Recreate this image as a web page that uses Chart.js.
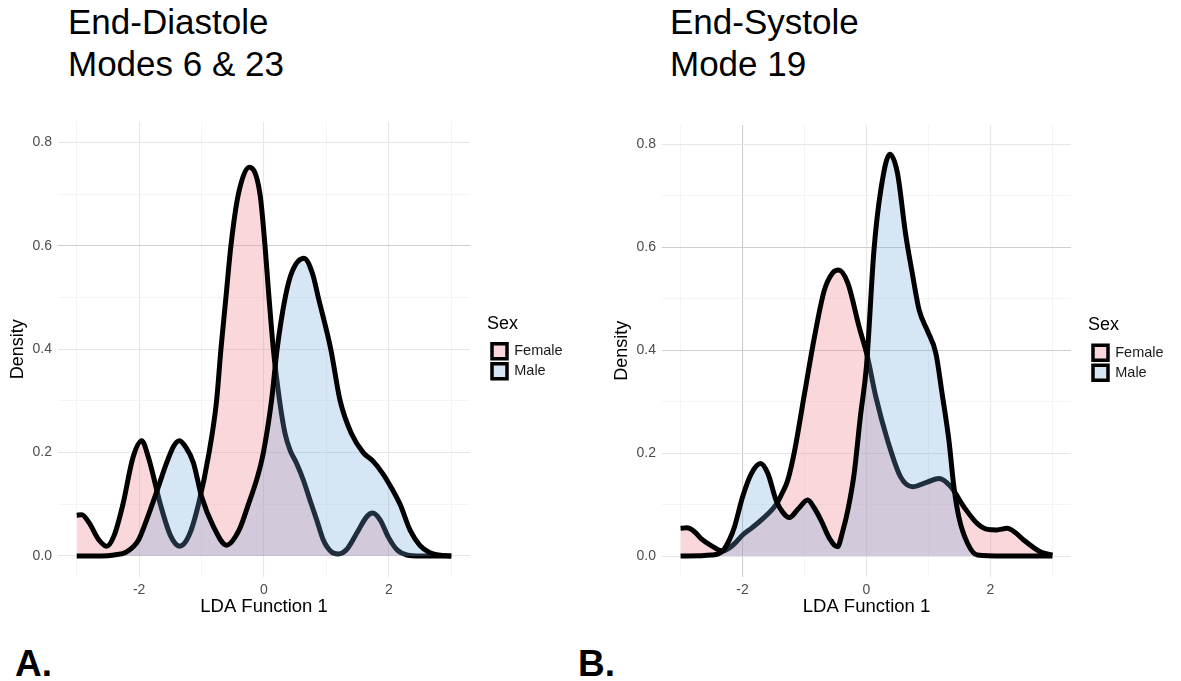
<!DOCTYPE html>
<html>
<head>
<meta charset="utf-8">
<script src="https://cdn.jsdelivr.net/npm/chart.js@4.4.1/dist/chart.umd.min.js"></script>
<style>
  body { margin: 0; background: #fff; font-family: "Liberation Sans", Arial, sans-serif; }
  #pagina { position: relative; width: 1181px; height: 681px; overflow: hidden; }
  .titolo { position: absolute; font-size: 35px; line-height: 42px; color: #000; white-space: nowrap; }
  .lettera { position: absolute; font-size: 37px; font-weight: bold; line-height: 37px; color: #000; }
  .riquadro { position: absolute; top: 100px; height: 530px; }
</style>
</head>
<body>
<div id="pagina">
  <div class="titolo" style="left:68px; top:1px">End-Diastole<br>Modes 6 &amp; 23</div>
  <div class="titolo" style="left:670px; top:1px">End-Systole<br>Mode 19</div>
  <div class="riquadro" style="left:0; width:580px"><canvas id="grafico-a"></canvas></div>
  <div class="riquadro" style="left:604px; width:577px"><canvas id="grafico-b"></canvas></div>
  <div class="lettera" style="left:15px; top:645px">A.</div>
  <div class="lettera" style="left:578px; top:645px">B.</div>
</div>
<script>
const sessi = ["Female", "Male"];
const xTicks = [-3, -2, -1, 0, 1, 2, 3];
const xLabels = [-2, 0, 2];
const yTicks = [0, 0.1, 0.2, 0.3, 0.4, 0.5, 0.6, 0.7, 0.8];
const yLabels = [0, 0.2, 0.4, 0.6, 0.8];

// A. End-Diastole, Female
const diaFemX = [-3.0, -2.92, -2.8, -2.65, -2.52, -2.4, -2.26, -2.1, -1.96, -1.85, -1.66, -1.5, -1.35, -1.2, -1.05, -0.88, -0.76, -0.69, -0.61, -0.53, -0.41, -0.235, -0.064, 0.016, 0.08, 0.15, 0.256, 0.337, 0.417, 0.523, 0.63, 0.737, 0.844, 0.95, 1.08, 1.19, 1.32, 1.485, 1.645, 1.74, 1.86, 1.99, 2.13, 2.29, 2.5, 3.0];
const diaFemY = [0.079, 0.080, 0.064, 0.032, 0.019, 0.04, 0.10, 0.19, 0.223, 0.19, 0.10, 0.04, 0.019, 0.04, 0.10, 0.20, 0.30, 0.40, 0.50, 0.60, 0.70, 0.752, 0.70, 0.60, 0.50, 0.40, 0.295, 0.237, 0.205, 0.179, 0.147, 0.108, 0.070, 0.031, 0.008, 0.004, 0.012, 0.044, 0.076, 0.083, 0.07, 0.037, 0.012, 0.002, 0.0, 0.0];
// A. End-Diastole, Male
const diaMaleX = [-3.0, -2.6, -2.4, -2.2, -2.01, -1.88, -1.72, -1.56, -1.45, -1.355, -1.25, -1.13, -1.0, -0.81, -0.6, -0.4, -0.25, -0.1, -0.01, 0.12, 0.21, 0.34, 0.45, 0.64, 0.78, 0.87, 1.07, 1.22, 1.4, 1.59, 1.75, 1.9, 2.05, 2.18, 2.34, 2.5, 2.65, 2.8, 3.0];
const diaMaleY = [0.0, 0.0, 0.002, 0.008, 0.031, 0.07, 0.124, 0.18, 0.212, 0.223, 0.21, 0.18, 0.115, 0.057, 0.021, 0.05, 0.10, 0.155, 0.20, 0.30, 0.40, 0.50, 0.55, 0.576, 0.545, 0.50, 0.40, 0.30, 0.237, 0.20, 0.183, 0.16, 0.13, 0.10, 0.05, 0.02, 0.007, 0.002, 0.0];
// B. End-Systole, Female
const sisFemX = [-3.0, -2.9, -2.78, -2.67, -2.5, -2.32, -2.15, -2.0, -1.85, -1.7, -1.46, -1.35, -1.27, -1.16, -1.0, -0.84, -0.68, -0.55, -0.45, -0.3, -0.12, 0.016, 0.15, 0.34, 0.55, 0.74, 0.98, 1.17, 1.36, 1.57, 1.79, 1.95, 2.1, 2.27, 2.4, 2.54, 2.81, 3.0];
const sisFemY = [0.054, 0.055, 0.048, 0.034, 0.02, 0.01, 0.022, 0.041, 0.055, 0.07, 0.10, 0.125, 0.148, 0.205, 0.316, 0.426, 0.517, 0.55, 0.556, 0.53, 0.446, 0.387, 0.31, 0.225, 0.154, 0.135, 0.144, 0.151, 0.135, 0.096, 0.063, 0.052, 0.051, 0.054, 0.046, 0.031, 0.008, 0.002];
// B. End-Systole, Male
const sisMaleX = [-3.0, -2.5, -2.32, -2.2, -2.13, -2.0, -1.86, -1.71, -1.59, -1.46, -1.35, -1.245, -1.1, -0.95, -0.85, -0.735, -0.6, -0.47, -0.38, -0.3, -0.2, -0.1, 0.0, 0.12, 0.23, 0.376, 0.5, 0.63, 0.74, 0.85, 0.98, 1.12, 1.22, 1.33, 1.41, 1.49, 1.63, 1.79, 2.2, 3.0];
const sisMaleY = [0.0, 0.002, 0.01, 0.035, 0.057, 0.115, 0.16, 0.18, 0.16, 0.109, 0.085, 0.075, 0.092, 0.109, 0.095, 0.07, 0.035, 0.018, 0.05, 0.09, 0.16, 0.27, 0.37, 0.594, 0.711, 0.781, 0.744, 0.627, 0.549, 0.478, 0.439, 0.394, 0.316, 0.225, 0.135, 0.076, 0.025, 0.002, 0.0, 0.0];

const famiglia = '"Liberation Sans", Arial, sans-serif';
const riempimenti = ['rgba(236, 130, 140, 0.32)', 'rgba(110, 165, 220, 0.28)'];
Chart.defaults.font.family = famiglia;

function punti(xs, ys) {
  return xs.map((x, i) => ({ x: x, y: ys[i] }));
}

// sposta la legenda vicino all'area del grafico, come in ggplot
const spostaLegenda = {
  id: 'spostaLegenda',
  afterLayout(chart) {
    const leg = chart.legend;
    const area = chart.chartArea;
    leg.left = area.right + 17;
    leg.right = leg.left + leg.width;
    leg.top = area.top;
    leg.bottom = area.bottom;
  }
};

function coloreGriglia(valore, evidenziati, principali) {
  if (evidenziati.includes(valore)) return '#cfcfcf';
  return principali.includes(valore) ? '#e6e6e6' : '#efefef';
}

function creaGrafico(id, femX, femY, maleX, maleY, opzioni) {
  const ctx = document.getElementById(id).getContext("2d");
  return new Chart(ctx, {
    type: 'line',
    data: {
      datasets: [
        {
          label: sessi[0], data: punti(femX, femY), order: 2,
          backgroundColor: riempimenti[0], borderColor: '#000', borderWidth: 5,
          fill: 'origin', pointRadius: 0, cubicInterpolationMode: 'monotone'
        },
        {
          label: sessi[1], data: punti(maleX, maleY), order: 1,
          backgroundColor: riempimenti[1], borderColor: '#000', borderWidth: 5,
          fill: 'origin', pointRadius: 0, cubicInterpolationMode: 'monotone'
        }
      ]
    },
    options: {
      responsive: true,
      maintainAspectRatio: false,
      animation: false,
      layout: { padding: { top: opzioni.top, right: 24.4, bottom: 8.3, left: 0 } },
      plugins: {
        tooltip: { enabled: false },
        legend: {
          position: 'right',
          align: 'center',
          reverse: true,
          title: {
            display: true, text: 'Sex', color: '#000', position: 'start',
            font: { family: famiglia, size: 18 }, padding: { top: 0, bottom: 2.4 }
          },
          labels: {
            boxWidth: 15, boxHeight: 15, padding: 5, color: '#1a1a1a',
            font: { family: famiglia, size: 14.5 },
            generateLabels: chart => Chart.defaults.plugins.legend.labels.generateLabels(chart)
              .map(l => Object.assign(l, { lineWidth: 3.5, strokeStyle: '#000' }))
          }
        }
      },
      scales: {
        x: {
          type: 'linear', min: -3.3, max: 3.3,
          afterBuildTicks: s => { s.ticks = xTicks.map(v => ({ value: v })); },
          afterFit: s => { s.height = 45; },
          border: { display: false },
          grid: {
            drawTicks: false,
            color: c => coloreGriglia(c.tick.value, opzioni.xEvid, xLabels),
            lineWidth: c => xLabels.includes(c.tick.value) ? 1.1 : 0.7
          },
          ticks: {
            padding: 5, color: '#4d4d4d', autoSkip: false, maxRotation: 0,
            font: { family: famiglia, size: 14 },
            callback: v => xLabels.includes(v) ? String(v) : ''
          },
          title: {
            display: true, text: 'LDA Function 1', color: '#000',
            font: { family: famiglia, size: 18.5 }, padding: { top: 0, bottom: 4 }
          }
        },
        y: {
          min: -0.04, max: opzioni.yMax,
          afterBuildTicks: s => { s.ticks = yTicks.map(v => ({ value: v })); },
          afterFit: s => { s.width = 58; },
          border: { display: false },
          grid: {
            drawTicks: false,
            color: c => coloreGriglia(c.tick.value, opzioni.yEvid, yLabels),
            lineWidth: c => yLabels.includes(c.tick.value) ? 1.1 : 0.7
          },
          ticks: {
            padding: 6, color: '#4d4d4d', autoSkip: false,
            font: { family: famiglia, size: 14 },
            callback: v => yLabels.includes(v) ? v.toFixed(1) : ''
          },
          title: {
            display: true, text: 'Density', color: '#000',
            font: { family: famiglia, size: 18 }, padding: { top: 7, bottom: 0 }
          }
        }
      }
    },
    plugins: [spostaLegenda]
  });
}

creaGrafico("grafico-a", diaFemX, diaFemY, diaMaleX, diaMaleY, { top: 21.7, yMax: 0.84, xEvid: [], yEvid: [0.6] });
creaGrafico("grafico-b", sisFemX, sisFemY, sisMaleX, sisMaleY, { top: 25, yMax: 0.838, xEvid: [-2], yEvid: [0.6, 0.4] });
</script>
</body>
</html>
